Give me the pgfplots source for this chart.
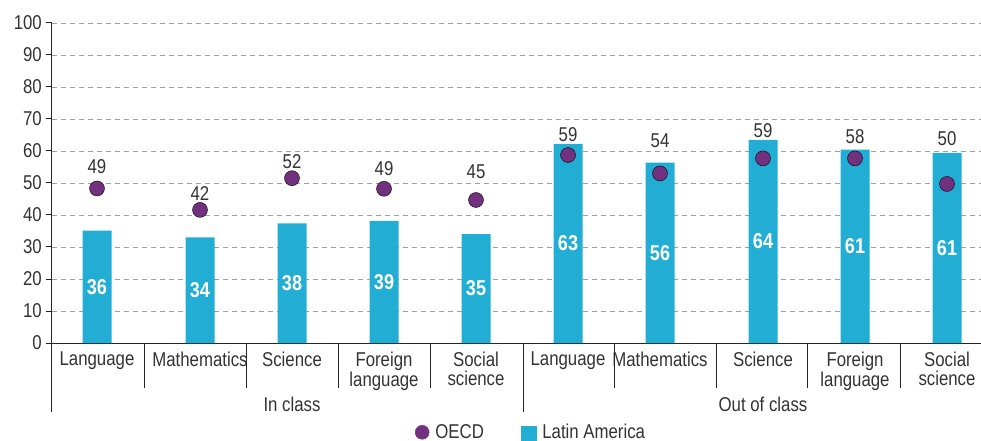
\documentclass[border=0pt]{standalone}
\usepackage{fontspec}
\setmainfont{Liberation Sans}[FakeStretch=0.84]
\usepackage{pgfplots}
\pgfplotsset{compat=1.18}
\usepackage{pgfplotstable}
\definecolor{barc}{HTML}{22AED4}
\definecolor{dotc}{HTML}{71317F}
\definecolor{txt}{HTML}{333333}
\definecolor{gridc}{HTML}{A0A0A0}

% x: position, la: Latin America bar (drawn), lal: its label,
% oe: OECD dot (drawn), ol: its label, ly: label baseline
\pgfplotstableread{
x   la   lal oe    ol ly
45  35.1 36  48.3  49 53.0
148 33.0 34  41.6  42 44.5
240 37.4 38  51.5  52 54.6
332 38.2 39  48.2  49 52.2
424 34.0 35  44.7  45 51.5
516 62.2 63  58.75 59 62.9
608 56.4 56  53.0  54 61.1
711 63.5 64  57.7  59 64.3
803 60.4 61  57.7  58 62.4
895 59.4 61  49.7  50 61.8
}\data

\begin{document}
\begin{tikzpicture}[font=\fontsize{20}{18.5}\selectfont]
\path[use as bounding box] (-52pt,-98pt) rectangle (929pt,343pt);
\begin{axis}[
  at={(0pt,0pt)}, anchor=south west,
  scale only axis, width=929pt, height=320pt,
  xmin=0, xmax=929, ymin=0, ymax=100,
  axis lines*=left,
  axis line style={line width=1pt, color=black!85},
  ytick={0,10,...,100},
  ymajorgrids,
  grid style={line width=0.9pt, color=gridc, dash pattern=on 5pt off 4pt},
  tick align=outside, major tick length=6pt,
  tick style={line width=1pt, color=black!85},
  xtick={45,148,240,332,424,516,608,711,803,895},
  xticklabels={Language,Mathematics,Science,Foreign\\language,Social\\science,Language,Mathematics,Science,Foreign\\language,Social\\science},
  x tick style={draw=none},
  tick label style={font=\fontsize{20}{18.5}\selectfont, text=txt},
  xticklabel style={align=center, anchor=north, inner sep=0pt, yshift=-3pt},
  yticklabel style={anchor=east, inner sep=0pt, xshift=-4pt},
  /pgf/number format/assume math mode=true,
  clip=false,
  legend columns=2,
  legend style={at={(axis cs:478,-27.9)}, anchor=center, draw=none, fill=none,
    inner sep=0pt, font=\fontsize{20}{18.5}\selectfont, text=txt,
    nodes={inner sep=0pt},
    /tikz/every odd column/.append style={column sep=6pt},
    /tikz/every even column/.append style={column sep=37pt}},
  legend cell align=left,
]
\addlegendimage{legend image code/.code={\fill[dotc] (7pt,0pt) circle[radius=7pt];}}
\addlegendentry{OECD}
\addlegendimage{legend image code/.code={\fill[barc] (0pt,-7.5pt) rectangle (15pt,6.5pt);}}
\addlegendentry{Latin America}

\addplot[ybar, bar width=29, fill=barc, draw=none, forget plot] table[x=x,y=la]{\data};
\addplot[draw=none, mark=none, forget plot, nodes near coords, point meta=explicit,
  every node near coord/.append style={anchor=center, inner sep=0pt, text=white, font=\fontsize{21.5}{18}\selectfont\bfseries}]
  table[x=x, y expr=\thisrow{la}/2, meta=lal]{\data};
\addplot[only marks, mark=*, mark size=7.5pt, mark options={fill=dotc, draw=none}, forget plot]
  table[x=x, y=oe]{\data};
\addplot[draw=none, mark=none, forget plot, nodes near coords, point meta=explicit,
  every node near coord/.append style={anchor=base, inner sep=0pt, text=txt, font=\fontsize{20}{18}\selectfont}]
  table[x=x, y=ly, meta=ol]{\data};

\pgfplotsinvokeforeach{92,194,286,378,562,664,755,848}{
  \draw[line width=1pt, black!85] (axis cs:#1,0) -- ++(0,-45pt);
}
\draw[line width=1pt, black!85] (axis cs:0,0) -- ++(0,-69pt);
\draw[line width=1pt, black!85] (axis cs:471,0) -- ++(0,-69pt);
\node[anchor=base, text=txt] at ([yshift=-68pt]axis cs:240,0) {In class};
\node[anchor=base, text=txt] at ([yshift=-68pt]axis cs:711,0) {Out of class};
\end{axis}
\end{tikzpicture}
\end{document}
